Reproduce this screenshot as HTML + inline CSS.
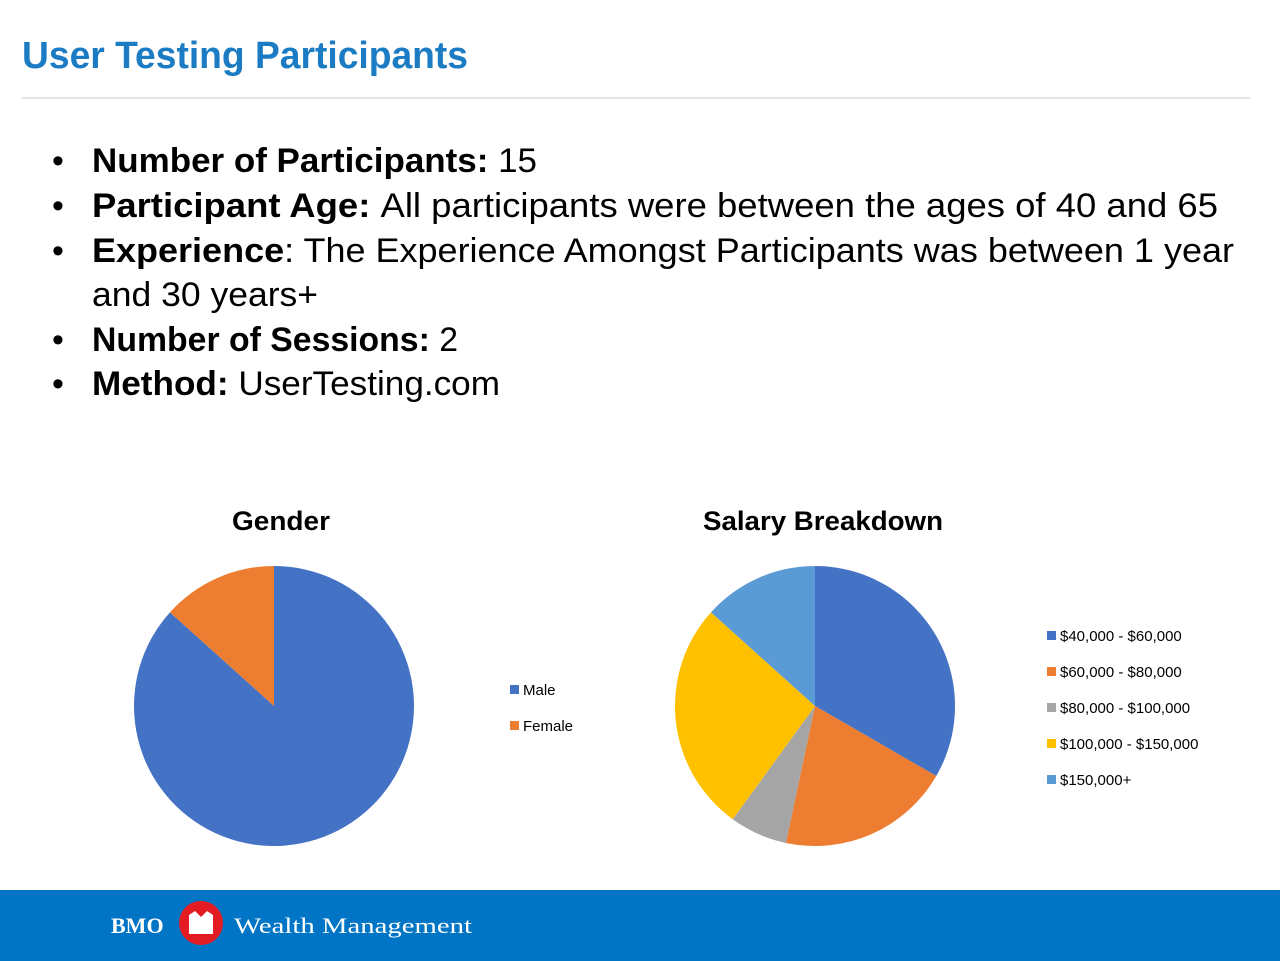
<!DOCTYPE html>
<html><head><meta charset="utf-8"><style>
html,body{margin:0;padding:0;background:#fff;}
svg{display:block;font-family:"Liberation Sans",sans-serif;}
</style></head><body>
<svg id="s" width="1280" height="961" viewBox="0 0 1280 961">
<text x="22" y="68" font-size="38" font-weight="bold" fill="#1b7bc3" textLength="446" lengthAdjust="spacingAndGlyphs">User Testing Participants</text>
<line x1="22" y1="98" x2="1250" y2="98" stroke="#c8c8c8" stroke-width="1"/>
<g font-size="34" fill="#000">
<text x="52" y="172">•</text><text x="92" y="172" textLength="445" lengthAdjust="spacingAndGlyphs"><tspan font-weight="bold">Number of Participants: </tspan>15</text>
<text x="52" y="217">•</text><text x="92" y="217" textLength="1126" lengthAdjust="spacingAndGlyphs"><tspan font-weight="bold">Participant Age: </tspan>All participants were between the ages of 40 and 65</text>
<text x="52" y="262">•</text><text x="92" y="262" textLength="1142" lengthAdjust="spacingAndGlyphs"><tspan font-weight="bold">Experience</tspan>:  The Experience Amongst Participants was between 1 year</text>
<text x="92" y="306" textLength="226" lengthAdjust="spacingAndGlyphs">and 30 years+</text>
<text x="52" y="351">•</text><text x="92" y="351" textLength="366" lengthAdjust="spacingAndGlyphs"><tspan font-weight="bold">Number of Sessions: </tspan>2</text>
<text x="52" y="395">•</text><text x="92" y="395" textLength="408" lengthAdjust="spacingAndGlyphs"><tspan font-weight="bold">Method: </tspan>UserTesting.com</text>
</g>
<text x="281" y="530" text-anchor="middle" font-size="27" font-weight="bold" textLength="98" lengthAdjust="spacingAndGlyphs">Gender</text>
<text x="823" y="530" text-anchor="middle" font-size="27" font-weight="bold" textLength="240" lengthAdjust="spacingAndGlyphs">Salary Breakdown</text>
<g id="g1"></g><g id="g2"></g>
<rect x="0" y="890" width="1280" height="71" fill="#0075c6"/>
<text x="111" y="933" font-family="Liberation Serif,serif" font-size="22" font-weight="bold" fill="#fff">BMO</text>
<circle cx="201" cy="923" r="22" fill="#e31c23"/>
<path d="M189 934 V915 L195 911 L201 917 L207 911 L213 915 V934 Z" fill="#fff"/>
<text x="234" y="933" font-family="Liberation Serif,serif" font-size="22" fill="#fff" textLength="238" lengthAdjust="spacingAndGlyphs">Wealth Management</text>
</svg>
<script>
const genderCats=["Male","Female"];
const genderVals=[13,2];
const genderColors=["#4472c4","#ed7d31"];
const salaryCats=["$40,000 - $60,000","$60,000 - $80,000","$80,000 - $100,000","$100,000 - $150,000","$150,000+"];
const salaryVals=[5,3,1,4,2];
const salaryColors=["#4472c4","#ed7d31","#a5a5a5","#ffc000","#5b9bd5"];
const NS="http://www.w3.org/2000/svg";
function pie(g,cx,cy,r,cats,vals,cols,lx,ly,gap,name){
  const tot=vals.reduce((a,b)=>a+b,0);let a0=0;
  vals.forEach((v,i)=>{
    const a1=a0+v/tot*2*Math.PI;
    const p=(a)=>[cx+r*Math.sin(a),cy-r*Math.cos(a)];
    const [x0,y0]=p(a0),[x1,y1]=p(a1);
    const el=document.createElementNS(NS,"path");
    el.setAttribute("d",`M${cx} ${cy} L${x0} ${y0} A${r} ${r} 0 ${a1-a0>Math.PI?1:0} 1 ${x1} ${y1} Z`);
    el.setAttribute("fill",cols[i]);
    
    
    g.appendChild(el);a0=a1;
    const sq=document.createElementNS(NS,"rect");
    sq.setAttribute("x",lx);sq.setAttribute("y",ly+i*gap-4);sq.setAttribute("width",9);sq.setAttribute("height",9);sq.setAttribute("fill",cols[i]);
    
    
    g.appendChild(sq);
    const t=document.createElementNS(NS,"text");
    t.setAttribute("x",lx+13);t.setAttribute("y",ly+i*gap+6);t.setAttribute("font-size","15");
    t.textContent=cats[i];
    
    
    g.appendChild(t);
  });
}
pie(document.getElementById("g1"),274,706,140,genderCats,genderVals,genderColors,510,689,36,"gender");
pie(document.getElementById("g2"),815,706,140,salaryCats,salaryVals,salaryColors,1047,635,36,"salary");
</script>
</body></html>
